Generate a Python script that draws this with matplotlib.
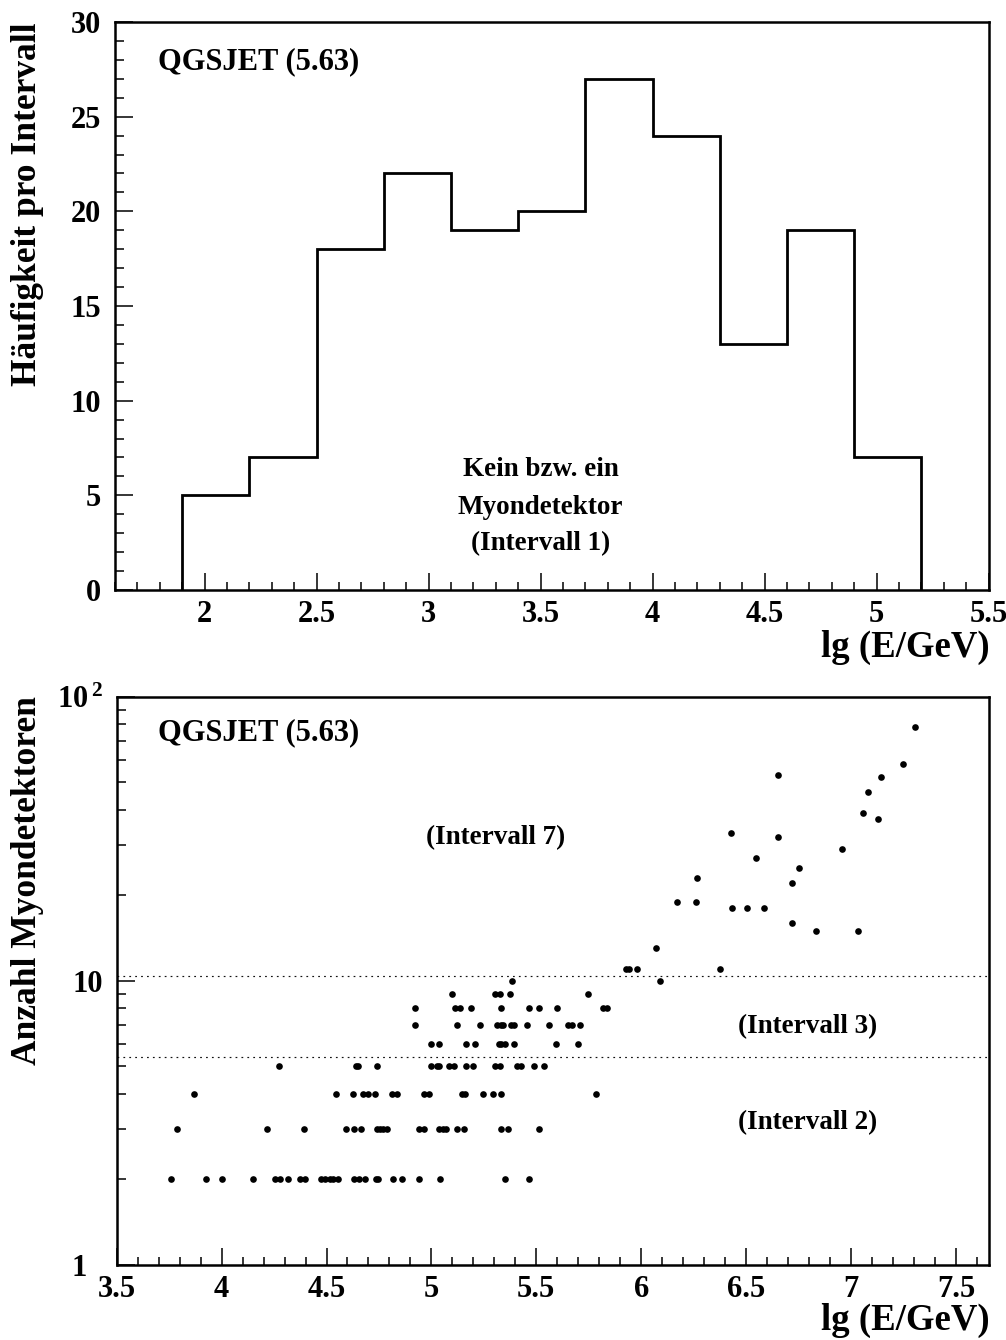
import matplotlib
matplotlib.use("Agg")
import matplotlib.pyplot as plt
import numpy as np
from matplotlib.ticker import MultipleLocator, FixedLocator, FixedFormatter, LogLocator, NullFormatter

plt.rcParams["font.family"] = ["Liberation Serif", "DejaVu Serif"]
plt.rcParams["font.weight"] = "bold"
plt.rcParams["mathtext.fontset"] = "custom"
plt.rcParams["mathtext.rm"] = "Liberation Serif:bold"
plt.rcParams["mathtext.bf"] = "Liberation Serif:bold"
plt.rcParams["mathtext.default"] = "bf"

# ---- histogram: events per energy bin (one or no muon detector hit) ----
bin_edges = [1.9, 2.2, 2.5, 2.8, 3.1, 3.4, 3.7, 4.0, 4.3, 4.6, 4.9, 5.2]
counts = [5, 7, 18, 22, 19, 20, 27, 24, 13, 19, 7]

# ---- scatter: number of hit muon detectors vs. lg(E/GeV) ----
e_n2 = [3.757, 3.927, 4.003, 4.150, 4.255, 4.278, 4.318, 4.372, 4.398, 4.474,
        4.493, 4.517, 4.531, 4.556, 4.631, 4.656, 4.685, 4.736, 4.745, 4.818,
        4.861, 4.939, 5.042, 5.349, 5.467]
e_n3 = [3.786, 4.215, 4.393, 4.594, 4.631, 4.663, 4.739, 4.755, 4.771, 4.790,
        4.939, 4.963, 5.035, 5.054, 5.071, 5.122, 5.157, 5.333, 5.365, 5.511]
e_n4 = [3.870, 4.545, 4.628, 4.673, 4.698, 4.733, 4.811, 4.835, 4.966, 4.989,
        5.146, 5.162, 5.245, 5.295, 5.332, 5.786]
e_n5 = [4.272, 4.639, 4.650, 4.742, 4.998, 5.028, 5.038, 5.084, 5.108, 5.165,
        5.197, 5.302, 5.327, 5.407, 5.426, 5.488, 5.537]
e_n6 = [4.998, 5.038, 5.166, 5.208, 5.322, 5.333, 5.352, 5.395, 5.595, 5.700]
e_n7 = [4.922, 5.122, 5.232, 5.311, 5.330, 5.340, 5.378, 5.395, 5.456, 5.561,
        5.653, 5.669, 5.707]
e_n8 = [4.922, 5.111, 5.136, 5.187, 5.330, 5.465, 5.511, 5.599, 5.816, 5.835]
e_n9 = [5.100, 5.305, 5.327, 5.375, 5.748]
e_n10 = [5.383, 6.090]
e_n11 = [5.928, 5.943, 5.981, 6.374]
e_high = [6.069, 6.832, 7.035, 6.717, 6.434, 6.506, 6.584, 6.171, 6.260, 6.717,
          6.265, 6.752, 6.547, 6.959, 6.651, 6.430, 7.129, 7.056, 7.080, 7.141,
          6.653, 7.246, 7.304]
n_high = [13, 15, 15, 16, 18, 18, 18, 19, 19, 22,
          23, 25, 27, 29, 32, 33, 37, 39, 46, 52,
          53, 58, 78]

rows = [(2, e_n2), (3, e_n3), (4, e_n4), (5, e_n5), (6, e_n6), (7, e_n7),
        (8, e_n8), (9, e_n9), (10, e_n10), (11, e_n11)]
lg_energy = np.concatenate([np.array(e) for _, e in rows] + [np.array(e_high)])
n_detectors = np.concatenate([np.full(len(e), n) for n, e in rows] + [np.array(n_high)])

# interval boundaries in detector multiplicity
interval_bounds = [5.4, 10.4]

W, H = 1006, 1340
fig = plt.figure(figsize=(W / 100, H / 100), dpi=100)

def fx(px):
    return px / W

def fy(py):
    return 1 - py / H

TICK_FS = 22
TITLE_FS = 26.5
LABEL_FS = 19.5
HEAD_FS = 22
SPINE_W = 1.8

# ================= upper panel =================
ax1 = fig.add_axes([fx(115), fy(590), (988.6 - 115) / W, (590 - 22) / H])
ax1.stairs(counts, bin_edges, baseline=0, color="black", linewidth=2.0)
ax1.set_xlim(1.6, 5.5)
ax1.set_ylim(0, 30)
ax1.xaxis.set_minor_locator(MultipleLocator(0.1))
ax1.yaxis.set_major_locator(MultipleLocator(5))
ax1.yaxis.set_minor_locator(MultipleLocator(1))
ax1.set_xticks([2, 2.5, 3, 3.5, 4, 4.5, 5, 5.5])
ax1.set_xticklabels(["2", "2.5", "3", "3.5", "4", "4.5", "5", "5.5"])

ax1.text(1.79, 27.9, "QGSJET (5.63)", fontsize=HEAD_FS, fontweight="bold",
         ha="left", va="center")
ax1.text(3.5, 6.34, "Kein bzw. ein", fontsize=LABEL_FS, fontweight="bold",
         ha="center", va="center")
ax1.text(3.5, 4.38, "Myondetektor", fontsize=LABEL_FS, fontweight="bold",
         ha="center", va="center")
ax1.text(3.5, 2.45, "(Intervall 1)", fontsize=LABEL_FS, fontweight="bold",
         ha="center", va="center")

# ================= lower panel =================
ax2 = fig.add_axes([fx(116.7), fy(1264.8), (988.6 - 116.7) / W, (1264.8 - 696.7) / H])
ax2.set_yscale("log")
ax2.plot(lg_energy, n_detectors, "o", color="black", markersize=4.8,
         markeredgewidth=0)
for b in interval_bounds:
    ax2.axhline(b, color="#111111", linewidth=0.85, linestyle=(0, (1.5, 3.5)))
ax2.set_xlim(3.5, 3.5 + (988.6 - 116.7) / 209.8)
ax2.set_ylim(1, 100)
ax2.xaxis.set_minor_locator(MultipleLocator(0.1))
ax2.set_xticks([3.5, 4, 4.5, 5, 5.5, 6, 6.5, 7, 7.5])
ax2.set_xticklabels(["3.5", "4", "4.5", "5", "5.5", "6", "6.5", "7", "7.5"])
ax2.yaxis.set_major_locator(FixedLocator([1, 10, 100]))
ax2.yaxis.set_major_formatter(FixedFormatter(["1\u2002", "10", r"$10^{\,2}$"]))
ax2.yaxis.set_minor_locator(LogLocator(base=10, subs=np.arange(2, 10)))
ax2.yaxis.set_minor_formatter(NullFormatter())

ax2.text(3.697, 74.5, "QGSJET (5.63)", fontsize=HEAD_FS, fontweight="bold",
         ha="left", va="center")
ax2.text(5.308, 32.0, "(Intervall 7)", fontsize=LABEL_FS, fontweight="bold",
         ha="center", va="center")
ax2.text(6.795, 6.87, "(Intervall 3)", fontsize=LABEL_FS, fontweight="bold",
         ha="center", va="center")
ax2.text(6.795, 3.16, "(Intervall 2)", fontsize=LABEL_FS, fontweight="bold",
         ha="center", va="center")

for ax in (ax1, ax2):
    for s in ax.spines.values():
        s.set_linewidth(SPINE_W)
    ax.tick_params(which="both", direction="in", top=False, right=False,
                   width=1.1, labelsize=TICK_FS)
    ax.tick_params(axis="y", which="major", length=13, pad=10)
    ax.tick_params(axis="y", which="minor", length=6.5)
    ax.tick_params(axis="x", which="major", length=12, pad=7)
    ax.tick_params(axis="x", which="minor", length=6)
    for lab in ax.get_xticklabels() + ax.get_yticklabels():
        lab.set_fontweight("bold")

# axis titles
fig.text(fx(28), fy(22), "Häufigkeit pro Intervall", rotation=90,
         fontsize=TITLE_FS - 1, fontweight="bold", ha="center", va="top")
fig.text(fx(28), fy(696), "Anzahl Myondetektoren", rotation=90,
         fontsize=TITLE_FS - 1, fontweight="bold", ha="center", va="top")
fig.text(fx(990), fy(647), "lg (E/GeV)", fontsize=TITLE_FS,
         fontweight="bold", ha="right", va="center")
fig.text(fx(990), fy(1320), "lg (E/GeV)", fontsize=TITLE_FS,
         fontweight="bold", ha="right", va="center")

fig.savefig("out.png", dpi=100)
